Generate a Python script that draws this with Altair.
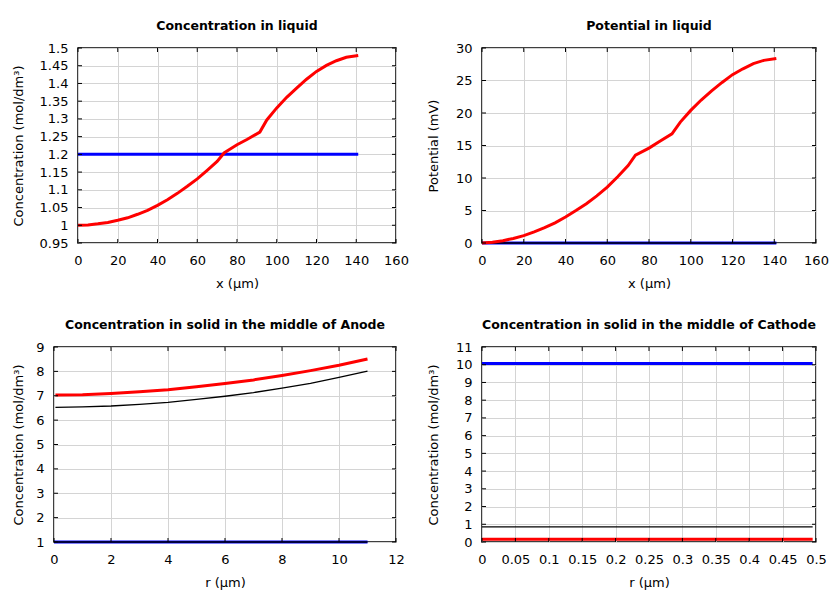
import altair as alt
import pandas as pd

FONT = "DejaVu Sans"

# ---------------- data ----------------
# Concentration in liquid
liq_x = [0, 5, 10, 15, 20, 25, 30, 35, 40, 45, 50, 55, 60, 65, 70, 73.5, 76, 80, 85,
         91.5, 95, 100, 105, 110, 115, 120, 125, 130, 135, 141]
liq_red = [1.000, 1.001, 1.004, 1.008, 1.014, 1.021, 1.031, 1.042, 1.056, 1.072, 1.090,
           1.110, 1.131, 1.155, 1.180, 1.204, 1.213, 1.227, 1.242, 1.263, 1.297, 1.331,
           1.361, 1.387, 1.412, 1.434, 1.451, 1.464, 1.474, 1.479]
liq_blue_x = [0, 141]
liq_blue = [1.2, 1.2]

# Potential in liquid
pot_x = [0, 5, 10, 15, 20, 25, 30, 35, 40, 45, 50, 55, 60, 65, 70, 73.5, 80, 85, 91,
         95, 100, 105, 110, 115, 120, 125, 130, 135, 141]
pot_red = [0, 0.1, 0.36, 0.7, 1.13, 1.7, 2.35, 3.1, 4.0, 5.0, 6.05, 7.25, 8.6, 10.2,
           11.9, 13.5, 14.6, 15.6, 16.8, 18.6, 20.4, 22.0, 23.4, 24.7, 25.9, 26.8,
           27.6, 28.1, 28.4]
pot_flat_x = [0, 141]
pot_flat = [0, 0]

# Concentration in solid, anode
anode_r = [0.05, 1, 2, 3, 4, 5, 6, 7, 8, 9, 10, 11]
anode_red = [7.03, 7.04, 7.09, 7.16, 7.25, 7.37, 7.50, 7.65, 7.83, 8.03, 8.25, 8.51]
anode_black = [6.52, 6.54, 6.58, 6.65, 6.73, 6.85, 6.98, 7.13, 7.31, 7.51, 7.75, 8.01]
anode_flat_r = [0, 11]
anode_flat = [1, 1]

# Concentration in solid, cathode
cath_r = [0, 0.495]
cath_blue = [10.07, 10.07]
cath_black = [0.85, 0.85]
cath_red = [0.15, 0.15]

# tick values
liq_xticks = [0, 20, 40, 60, 80, 100, 120, 140, 160]
liq_yticks = [0.95, 1, 1.05, 1.1, 1.15, 1.2, 1.25, 1.3, 1.35, 1.4, 1.45, 1.5]
pot_yticks = [0, 5, 10, 15, 20, 25, 30]
anode_xticks = [0, 2, 4, 6, 8, 10, 12]
anode_yticks = [1, 2, 3, 4, 5, 6, 7, 8, 9]
cath_xticks = [0, 0.05, 0.1, 0.15, 0.2, 0.25, 0.3, 0.35, 0.4, 0.45, 0.5]
cath_yticks = [0, 1, 2, 3, 4, 5, 6, 7, 8, 9, 10, 11]

RED, BLUE, BLACK = "#ff0000", "#0000ff", "#000000"
CONC = "Concentration (mol/dm\u00b3)"
LBL = "format(datum.value, '~g')"


def panel(series, title, xtitle, ytitle, xdom, ydom, xticks, yticks, w, h, ytp):
    xs = alt.Scale(domain=xdom, nice=False, zero=False)
    ys = alt.Scale(domain=ydom, nice=False, zero=False)
    xax = alt.Axis(values=xticks, labelExpr=LBL, title=xtitle, grid=True, ticks=False,
                   tickSize=0, domain=False, labelPadding=11, titlePadding=10,
                   labelFlush=False, minExtent=0)
    yax = alt.Axis(values=yticks, labelExpr=LBL, title=ytitle, grid=True, ticks=False,
                   tickSize=0, domain=False, labelPadding=10, titlePadding=ytp,
                   labelFlush=False, minExtent=0)
    layers = []
    for xv, yv, color, sw in series:
        df = pd.DataFrame({"x": xv, "y": yv})
        layers.append(alt.Chart(df).mark_line(color=color, strokeWidth=sw).encode(
            x=alt.X("x:Q", scale=xs, axis=xax), y=alt.Y("y:Q", scale=ys, axis=yax)))
    xt = pd.DataFrame({"x": xticks})
    yt = pd.DataFrame({"y": yticks})
    for y0, y1 in ((0, 4), (h, h - 4)):
        layers.append(alt.Chart(xt).mark_rule(color="black", strokeWidth=1).encode(
            x=alt.X("x:Q", scale=xs, axis=xax), y=alt.value(y0), y2=alt.value(y1)))
    for x0, x1 in ((0, 4), (w, w - 4)):
        layers.append(alt.Chart(yt).mark_rule(color="black", strokeWidth=1).encode(
            y=alt.Y("y:Q", scale=ys, axis=yax), x=alt.value(x0), x2=alt.value(x1)))
    return alt.layer(*layers).properties(
        width=w, height=h,
        title=alt.TitleParams(title, font=FONT, fontSize=12.5, fontWeight="bold",
                              anchor="middle", frame="group", offset=10, color="black"))


p1 = panel([(liq_blue_x, liq_blue, BLUE, 3), (liq_x, liq_red, RED, 3)],
           "Concentration in liquid", "x (\u00b5m)", CONC, [0, 160], [0.95, 1.5],
           liq_xticks, liq_yticks, 318, 195, 14)
p2 = panel([(pot_flat_x, pot_flat, BLUE, 3), (pot_flat_x, pot_flat, BLACK, 1.3),
            (pot_x, pot_red, RED, 3)],
           "Potential in liquid", "x (\u00b5m)", "Potential (mV)", [0, 160], [0, 30],
           liq_xticks, pot_yticks, 334, 195, 15)
p3 = panel([(anode_flat_r, anode_flat, BLUE, 3), (anode_flat_r, anode_flat, BLACK, 1.3),
            (anode_r, anode_black, BLACK, 1.3), (anode_r, anode_red, RED, 3)],
           "Concentration in solid in the middle of Anode", "r (\u00b5m)", CONC,
           [0, 12], [1, 9], anode_xticks, anode_yticks, 342, 195, 10)
p4 = panel([(cath_r, cath_blue, BLUE, 3), (cath_r, cath_black, BLACK, 1.3),
            (cath_r, cath_red, RED, 3)],
           "Concentration in solid in the middle of Cathode", "r (\u00b5m)", CONC,
           [0, 0.5], [0, 11], cath_xticks, cath_yticks, 334, 195, 15)

# invisible 1px spacer so the left-column panels keep their own axis widths
spacer = alt.Chart(pd.DataFrame({"v": [0]})).mark_rule(strokeWidth=0, opacity=0).encode(
    x=alt.value(0), y=alt.value(0), y2=alt.value(0)
).properties(width=1, height=1, view=alt.ViewBackground(stroke="transparent"))

left = alt.concat(spacer, p1, spacer, p3, columns=2, align="none",
                  spacing={"row": 26, "column": 0})
right = alt.vconcat(p2, p4, spacing=26)

chart = alt.hconcat(left, right, spacing=16).properties(
    padding={"left": 0, "top": 10, "right": 0, "bottom": 0}
).configure_view(
    stroke="black", strokeWidth=1.5
).configure_axis(
    labelFont=FONT, labelFontSize=13, titleFont=FONT, titleFontSize=13,
    titleFontWeight="normal", labelColor="black", titleColor="black",
    gridColor="#d4d4d4", gridWidth=1
)

chart.save("out.html", embed_options={"renderer": "svg", "actions": False})
